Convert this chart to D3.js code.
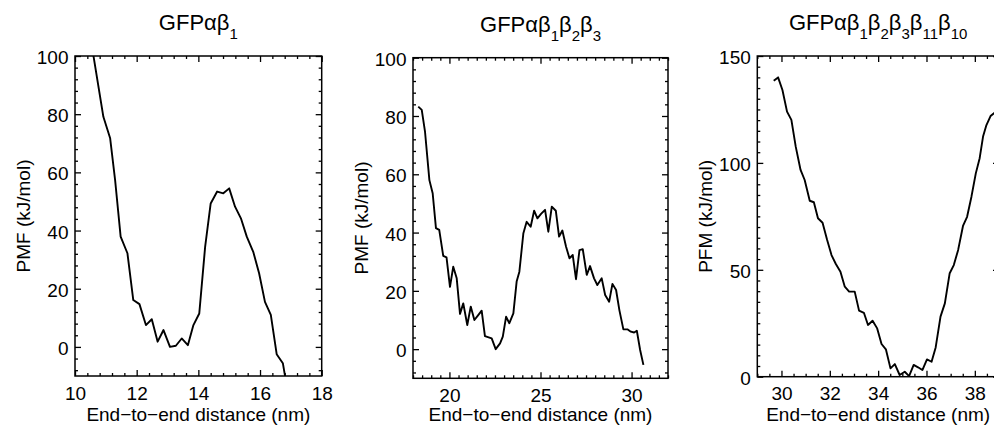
<!DOCTYPE html>
<html>
<head>
<meta charset="utf-8">
<script src="https://cdn.jsdelivr.net/npm/d3@7"></script>
<style>
  body { margin: 0; background: #fff; }
  svg { display: block; }
  text { font-family: "Liberation Sans", Arial, Helvetica, sans-serif; fill: #000; }
</style>
</head>
<body>
<svg id="chart" width="994" height="425"></svg>
<script>
// PMF profiles (distance in nm, energy in kJ/mol)
const dist1 = [10.4, 10.92, 11.14, 11.30, 11.48, 11.70, 11.89, 12.09, 12.30, 12.49, 12.68, 12.87, 13.08, 13.27, 13.46, 13.66, 13.84, 14.03, 14.22, 14.40, 14.61, 14.81, 15.00, 15.19, 15.38, 15.57, 15.78, 15.97, 16.16, 16.35, 16.54, 16.74, 16.86];
const pmf1 = [113, 79.1, 71.7, 57.4, 37.9, 32.2, 16.1, 14.7, 7.5, 9.5, 1.8, 5.8, 0, 0.4, 2.9, 0.6, 7.5, 11.5, 34.4, 49.3, 53.4, 52.8, 54.5, 48.2, 44.2, 37.9, 32.7, 25.3, 15.5, 11.0, -2.5, -5.6, -13];

const dist2 = [18.29, 18.48, 18.66, 18.90, 19.08, 19.26, 19.44, 19.66, 19.84, 20.03, 20.21, 20.40, 20.58, 20.76, 20.98, 21.17, 21.37, 21.57, 21.77, 21.95, 22.32, 22.54, 22.78, 22.93, 23.11, 23.29, 23.51, 23.69, 23.84, 24.06, 24.24, 24.46, 24.65, 24.83, 25.03, 25.25, 25.43, 25.62, 25.84, 26.02, 26.20, 26.40, 26.59, 26.77, 26.95, 27.14, 27.32, 27.54, 27.72, 27.94, 28.12, 28.36, 28.55, 28.77, 28.95, 29.15, 29.33, 29.55, 29.77, 29.96, 30.14, 30.29, 30.47, 30.65];
const pmf2 = [83.2, 82.1, 74.6, 58.0, 53.5, 41.5, 40.9, 32.0, 31.5, 21.4, 28.3, 24.3, 12.1, 15.7, 8.3, 14.6, 10.0, 11.6, 13.2, 4.5, 3.7, 0, 2.0, 4.3, 11.1, 8.9, 12.3, 23.2, 26.6, 39.8, 43.7, 42.0, 47.5, 44.9, 46.4, 47.8, 40.3, 48.9, 47.5, 38.6, 40.7, 35.2, 31.2, 32.3, 24.0, 34.0, 34.3, 25.5, 28.5, 24.3, 22.0, 24.3, 18.6, 16.3, 22.4, 20.3, 13.4, 6.8, 6.8, 6.0, 5.7, 6.3, -0.3, -5.4];

const dist3 = [29.68, 29.86, 30.04, 30.23, 30.41, 30.59, 30.79, 30.96, 31.17, 31.34, 31.51, 31.70, 31.89, 32.07, 32.25, 32.44, 32.62, 32.80, 33.03, 33.21, 33.41, 33.58, 33.77, 33.96, 34.14, 34.32, 34.51, 34.69, 34.89, 35.10, 35.28, 35.47, 35.65, 35.83, 36.02, 36.21, 36.38, 36.58, 36.76, 36.96, 37.13, 37.31, 37.51, 37.68, 37.86, 38.04, 38.20, 38.34, 38.48, 38.65, 38.79, 38.95];
const pmf3 = [138.4, 140.0, 134.1, 124.0, 120.1, 107.6, 96.7, 92.0, 82.3, 81.6, 74.1, 72.0, 63.9, 56.9, 52.7, 49.1, 42.1, 39.8, 39.8, 30.9, 29.9, 24.2, 26.2, 22.6, 15.3, 12.8, 3.9, 5.9, 0.8, 2.3, 0.3, 5.5, 4.4, 3.1, 8.1, 7.0, 13.7, 28.1, 34.3, 48.4, 52.2, 59.3, 70.5, 74.8, 84.2, 95.1, 102.2, 112.3, 117.7, 121.9, 123.2, 124.5];

// axis ticks
const xTicks1 = [10, 12, 14, 16, 18];
const yTicks1 = [0, 20, 40, 60, 80, 100];
const xTicks2 = [20, 25, 30];
const yTicks2 = [0, 20, 40, 60, 80, 100];
const xTicks3 = [30, 32, 34, 36, 38];
const yTicks3 = [0, 50, 100, 150];

// titles as [text, isSubscript]
const title1 = [["GFPαβ", 0], ["1", 1]];
const title2 = [["GFPαβ", 0], ["1", 1], ["β", 0], ["2", 1], ["β", 0], ["3", 1]];
const title3 = [["GFPαβ", 0], ["1", 1], ["β", 0], ["2", 1], ["β", 0], ["3", 1], ["β", 0], ["11", 1], ["β", 0], ["10", 1]];

const panels = [
  { box: [75, 321.7, 56, 376], xDom: [10, 18], yDom: [-10, 100],
    xTicks: xTicks1, yTicks: yTicks1, xMinor: 0.4, yMinor: 4,
    title: title1, ylabel: "PMF (kJ/mol)", xs: dist1, ys: pmf1 },
  { box: [413, 668, 57.7, 378.3], xDom: [18, 32], yDom: [-10, 100],
    xTicks: xTicks2, yTicks: yTicks2, xMinor: 0.5, yMinor: 4,
    title: title2, ylabel: "PMF (kJ/mol)", xs: dist2, ys: pmf2 },
  { box: [757.3, 999, 56, 376.7], xDom: [29, 39], yDom: [0, 150],
    xTicks: xTicks3, yTicks: yTicks3, xMinor: 0.5, yMinor: 5,
    title: title3, ylabel: "PFM (kJ/mol)", xs: dist3, ys: pmf3 }
];

const svg = d3.select("#chart");
const FONT = 19;

function minorValues(dom, step, majors) {
  const out = [];
  const start = Math.ceil(dom[0] / step - 1e-6) * step;
  for (let v = start; v <= dom[1] + 1e-6; v += step) {
    const r = Math.round(v * 1000) / 1000;
    if (!majors.some((m) => Math.abs(m - r) < 1e-6)) out.push(r);
  }
  return out;
}

function styleAxis(sel) {
  sel.attr("font-size", null).attr("font-family", null);
  sel.select(".domain").remove();
  sel.selectAll("line").attr("stroke", "#000").attr("stroke-width", 1.3);
}

panels.forEach((p, i) => {
  const [l, r, t, b] = p.box;
  const x = d3.scaleLinear().domain(p.xDom).range([l, r]);
  const y = d3.scaleLinear().domain(p.yDom).range([b, t]);
  const g = svg.append("g");

  const xMin = minorValues(p.xDom, p.xMinor, p.xTicks);
  const yMin = minorValues(p.yDom, p.yMinor, p.yTicks);

  // minor ticks on all four sides
  g.append("g").attr("transform", `translate(0,${b})`)
    .call(d3.axisBottom(x).tickValues(xMin).tickSizeInner(-3).tickSizeOuter(0).tickFormat(""))
    .call(styleAxis);
  g.append("g").attr("transform", `translate(0,${t})`)
    .call(d3.axisTop(x).tickValues(xMin).tickSizeInner(-3).tickSizeOuter(0).tickFormat(""))
    .call(styleAxis);
  g.append("g").attr("transform", `translate(${l},0)`)
    .call(d3.axisLeft(y).tickValues(yMin).tickSizeInner(-3).tickSizeOuter(0).tickFormat(""))
    .call(styleAxis);
  g.append("g").attr("transform", `translate(${r},0)`)
    .call(d3.axisRight(y).tickValues(yMin).tickSizeInner(-3).tickSizeOuter(0).tickFormat(""))
    .call(styleAxis);

  // major ticks
  const xb = g.append("g").attr("transform", `translate(0,${b})`)
    .call(d3.axisBottom(x).tickValues(p.xTicks).tickSizeInner(-6).tickSizeOuter(0).tickFormat(d3.format("d")))
    .call(styleAxis);
  xb.selectAll("text").attr("y", 23.5).attr("dy", null).attr("font-size", FONT);

  g.append("g").attr("transform", `translate(0,${t})`)
    .call(d3.axisTop(x).tickValues(p.xTicks).tickSizeInner(-6).tickSizeOuter(0).tickFormat(""))
    .call(styleAxis);

  const yl = g.append("g").attr("transform", `translate(${l},0)`)
    .call(d3.axisLeft(y).tickValues(p.yTicks).tickSizeInner(-6).tickSizeOuter(0).tickPadding(6.5).tickFormat(d3.format("d")))
    .call(styleAxis);
  yl.selectAll("text").attr("dy", "0.4em").attr("font-size", FONT);

  g.append("g").attr("transform", `translate(${r},0)`)
    .call(d3.axisRight(y).tickValues(p.yTicks).tickSizeInner(-6).tickSizeOuter(0).tickFormat(""))
    .call(styleAxis);

  // frame
  g.append("rect")
    .attr("x", l).attr("y", t).attr("width", r - l).attr("height", b - t)
    .attr("fill", "none").attr("stroke", "#000").attr("stroke-width", 1.5);

  // curve, clipped to the frame
  const clipId = "clip" + i;
  svg.append("clipPath").attr("id", clipId)
    .append("rect").attr("x", l).attr("y", t).attr("width", r - l).attr("height", b - t);

  const line = d3.line().x((d) => x(d[0])).y((d) => y(d[1]));
  g.append("path")
    .datum(d3.zip(p.xs, p.ys))
    .attr("clip-path", `url(#${clipId})`)
    .attr("fill", "none")
    .attr("stroke", "#000")
    .attr("stroke-width", 1.9)
    .attr("stroke-linejoin", "round")
    .attr("d", line);

  // title with subscripts
  const cx = (l + r) / 2;
  const title = g.append("text")
    .attr("x", cx).attr("y", t - 26)
    .attr("text-anchor", "middle")
    .attr("font-size", 22);
  let shifted = false;
  p.title.forEach(([txt, sub]) => {
    const ts = title.append("tspan").text(txt);
    if (sub && !shifted) { ts.attr("dy", 9).attr("font-size", 15); shifted = true; }
    else if (sub) { ts.attr("font-size", 15); }
    else if (shifted) { ts.attr("dy", -9); shifted = false; }
  });

  // axis titles
  g.append("text")
    .attr("x", cx).attr("y", Math.min(b + 45.5, 421))
    .attr("text-anchor", "middle")
    .attr("font-size", FONT)
    .text("End\u2212to\u2212end distance (nm)");

  g.append("text")
    .attr("transform", `translate(${l - 45},${(t + b) / 2}) rotate(-90)`)
    .attr("text-anchor", "middle")
    .attr("font-size", FONT)
    .text(p.ylabel);
});
</script>
</body>
</html>
